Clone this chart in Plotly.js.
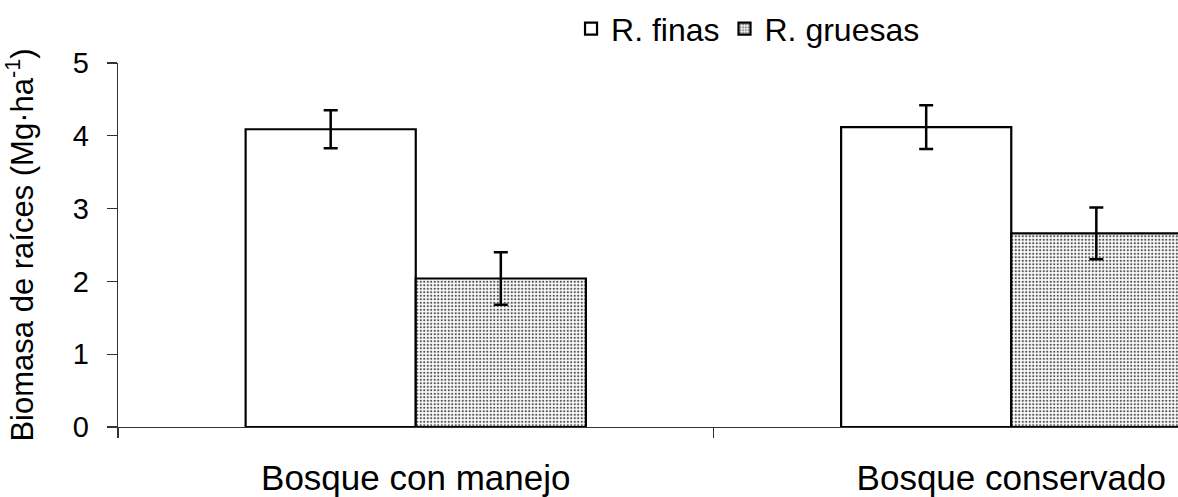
<!DOCTYPE html>
<html>
<head>
<meta charset="utf-8">
<script src="https://cdn.plot.ly/plotly-3.0.1.min.js"></script>
<style>html,body{margin:0;padding:0;background:#fff;}#chart{width:1178px;height:497px;}</style>
</head>
<body>
<div id="chart"></div>
<script>
const categories = ["Bosque con manejo", "Bosque conservado"];
const finas = [4.09, 4.12];
const finasErr = [0.26, 0.30];
const gruesas = [2.04, 2.66];
const gruesasErr = [0.36, 0.355];
const seriesNames = ["R. finas", "R. gruesas"];
const yTicks = [0, 1, 2, 3, 4, 5];

const FONT = "Liberation Sans, Arial, sans-serif";

const traces = [
  {
    type: "bar", name: seriesNames[0], x: categories, y: finas,
    marker: {color: "#ffffff", line: {color: "#000", width: 2.2}},
    error_y: {type: "data", array: finasErr, visible: true, color: "#000", thickness: 2.5, width: 7}
  },
  {
    type: "bar", name: seriesNames[1], x: categories, y: gruesas,
    marker: {color: "#ffffff", line: {color: "#000", width: 2.2},
      pattern: {shape: ".", fgcolor: "#555", bgcolor: "#ffffff", size: 3.5, solidity: 0.33}},
    error_y: {type: "data", array: gruesasErr, visible: true, color: "#000", thickness: 2.5, width: 7}
  }
];

const layout = {
  width: 1178, height: 497,
  margin: {l: 118, r: 0, t: 63, b: 70},
  paper_bgcolor: "#fff", plot_bgcolor: "#fff",
  barmode: "group", bargap: 0.4286, bargroupgap: 0,
  showlegend: true,
  legend: {orientation: "h", xref: "container", yref: "container", x: 0.635, xanchor: "center", y: 0.942, yanchor: "middle",
    font: {family: FONT, size: 32, color: "#000"}, bgcolor: "rgba(0,0,0,0)", itemwidth: 30, tracegroupgap: 0},
  xaxis: {
    type: "category", range: [-0.5, 1.28], tickson: "boundaries",
    ticks: "outside", ticklen: 10, tickcolor: "#333", tickwidth: 1.2,
    showline: true, linecolor: "#333", linewidth: 1.2, showgrid: false, zeroline: false,
    tickfont: {family: FONT, size: 35, color: "#000"}, ticklabelstandoff: 20
  },
  yaxis: {
    range: [0, 5], tickvals: yTicks, ticktext: yTicks.map(String),
    ticks: "outside", ticklen: 10, tickcolor: "#333", tickwidth: 1.2,
    showline: true, linecolor: "#333", linewidth: 1.2, showgrid: false, zeroline: false,
    tickfont: {family: FONT, size: 29, color: "#000"}, ticklabelstandoff: 12,
    title: {text: "Biomasa de raíces (Mg·ha<sup>-1</sup>)", font: {family: FONT, size: 31, color: "#000"}, standoff: 30}
  }
};

Plotly.newPlot("chart", traces, layout, {staticPlot: true, displayModeBar: false});
</script>
</body>
</html>
